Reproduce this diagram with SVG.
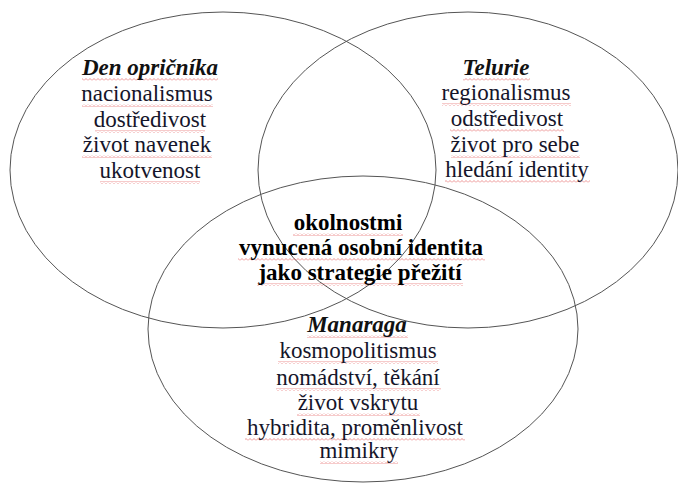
<svg xmlns="http://www.w3.org/2000/svg" width="678" height="483" viewBox="0 0 678 483">
<style>
.ell{fill:none;stroke:#555;stroke-width:1}
.t{font-family:'Liberation Serif';font-size:23px;fill:#15152a;text-anchor:middle}
.bi{font-family:'Liberation Serif';font-size:23px;fill:#111;text-anchor:middle;font-weight:bold;font-style:italic}
.b{font-family:'Liberation Serif';font-size:23px;fill:#000;text-anchor:middle;font-weight:bold}
.u{fill:url(#wave)}
</style>
<defs>
<pattern id="wave" width="4" height="3" patternUnits="userSpaceOnUse">
<path d="M0 2.5 L2 0.5 L4 2.5" fill="none" stroke="#e05050" stroke-width="0.6"/>
</pattern>
</defs>
<g id="connectors"></g>
<g id="den-opricnika" font-family="Liberation Serif">
<ellipse class="ell" cx="223" cy="170" rx="213" ry="158"/>
<rect class="u" x="82" y="78" width="136" height="3"/>
<text class="bi" x="150" y="75">Den opričníka</text>
<rect class="u" x="82" y="104" width="131" height="3"/>
<text class="t" x="147" y="101">nacionalismus</text>
<rect class="u" x="95" y="130" width="110" height="3"/>
<text class="t" x="150" y="127">dostředivost</text>
<rect class="u" x="82" y="155" width="130" height="3"/>
<text class="t" x="147" y="152">život navenek</text>
<rect class="u" x="100" y="181" width="100" height="3"/>
<text class="t" x="150" y="178">ukotvenost</text>
</g>
<g id="telurie" font-family="Liberation Serif">
<ellipse class="ell" cx="468" cy="170" rx="210" ry="158"/>
<rect class="u" x="463" y="78" width="67" height="3"/>
<text class="bi" x="496" y="75">Telurie</text>
<rect class="u" x="442" y="103" width="129" height="3"/>
<text class="t" x="506" y="100">regionalismus</text>
<rect class="u" x="450" y="129" width="114" height="3"/>
<text class="t" x="507" y="126">odstředivost</text>
<rect class="u" x="451" y="155" width="129" height="3"/>
<text class="t" x="515" y="152">život pro sebe</text>
<rect class="u" x="445" y="180" width="145" height="3"/>
<text class="t" x="517" y="177">hledání identity</text>
</g>
<g id="manaraga" font-family="Liberation Serif">
<ellipse class="ell" cx="363" cy="329" rx="215" ry="153"/>
<rect class="u" x="307" y="335" width="101" height="3"/>
<text class="bi" x="357" y="332">Manaraga</text>
<rect class="u" x="278" y="361" width="160" height="3"/>
<text class="t" x="358" y="358">kosmopolitismus</text>
<rect class="u" x="276" y="388" width="165" height="3"/>
<text class="t" x="358" y="385">nomádství, těkání</text>
<rect class="u" x="297" y="413" width="123" height="3"/>
<text class="t" x="358" y="410">život vskrytu</text>
<rect class="u" x="245" y="438" width="220" height="3"/>
<text class="t" x="355" y="435">hybridita, proměnlivost</text>
<rect class="u" x="320" y="461" width="78" height="3"/>
<text class="t" x="359" y="458">mimikry</text>
</g>
<g id="center" font-family="Liberation Serif">
<rect class="u" x="293" y="233" width="110" height="3"/>
<text class="b" x="348" y="230">okolnostmi</text>
<rect class="u" x="238" y="258" width="247" height="3"/>
<text class="b" x="361" y="255">vynucená osobní identita</text>
<rect class="u" x="257" y="283" width="206" height="3"/>
<text class="b" x="360" y="280">jako strategie přežití</text>
</g>
</svg>
